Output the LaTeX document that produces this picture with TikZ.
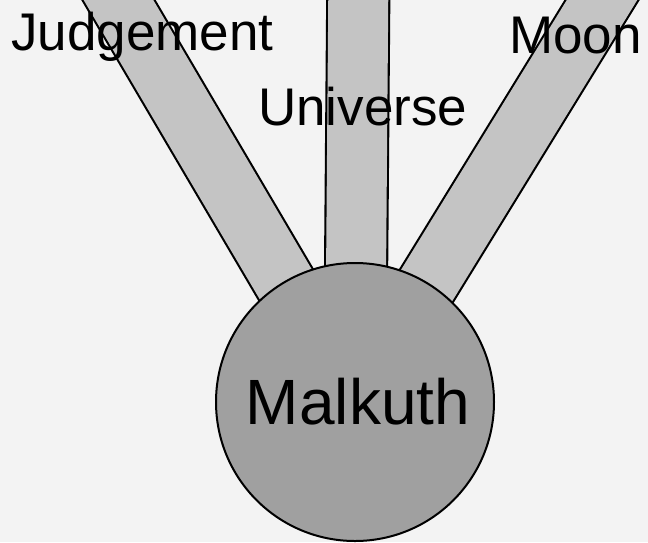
\documentclass[tikz,border=0pt]{standalone}
\usepackage{fontspec}
\setmainfont{Liberation Sans}
\definecolor{bgpaper}{HTML}{F3F3F3}
\definecolor{bandgray}{HTML}{C4C4C4}
\definecolor{circgray}{HTML}{A0A0A0}
\pgfdeclarelayer{paper}
\pgfdeclarelayer{paths}
\pgfsetlayers{paper,paths,main}
\begin{document}
\begin{tikzpicture}[x=1pt,y=-1pt,
  band/.style={draw=black, line width=2.1pt, double=bandgray, double distance=60pt},
  sephira/.style={circle, draw=black, line width=2pt, fill=circgray, minimum size=278pt, inner sep=0pt, font=\fontsize{64}{64}\selectfont},
  lbl/.style={anchor=base west, inner sep=0pt, font=\fontsize{53}{53}\selectfont}]
\useasboundingbox (0,0) rectangle (648,542);
\begin{pgfonlayer}{paper}
  \fill[bgpaper] (0,0) rectangle (648,542);
\end{pgfonlayer}
\clip (0,0) rectangle (648,542);
\node[sephira] (malkuth) at (355,402) {\hspace*{6pt}Malkuth};
\coordinate (jtop) at (100.8,-30);
\coordinate (utop) at (358.5,-30);
\coordinate (mtop) at (620.5,-30);
\begin{pgfonlayer}{paths}
  \draw[band] (malkuth.center) -- (jtop);
  \draw[band] (malkuth.center) -- (utop);
  \draw[band] (malkuth.center) -- (mtop);
\end{pgfonlayer}
\node[lbl] (judgement) at (11,50) {Judgement};
\node[lbl] (universe) at (258,125) {Universe};
\node[lbl] (moon) at (509,53) {Moon};
\end{tikzpicture}
\end{document}
